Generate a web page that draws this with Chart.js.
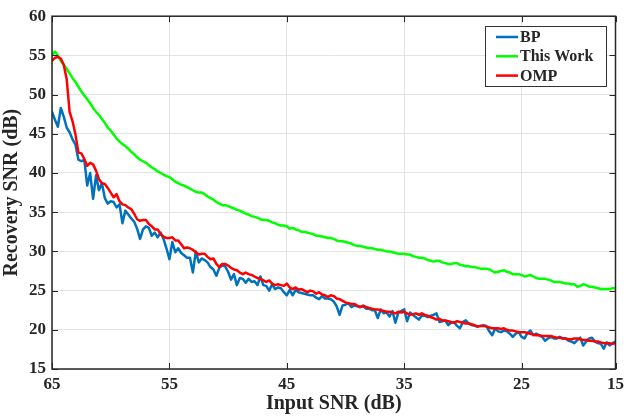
<!DOCTYPE html>
<html><head><meta charset="utf-8">
<script src="https://cdn.jsdelivr.net/npm/chart.js@4/dist/chart.umd.min.js"></script>
<style>html,body{margin:0;padding:0;background:#fff}#wrap{width:629px;height:416px}</style>
</head><body><div id="wrap"><canvas id="c" width="629" height="416"></canvas></div>
<script>
// Input SNR axis positions (dB), 65 -> 17 in 0.25 dB steps
const inputSNR = [65,
64.75,64.5,64.25,64, 63.75,63.5,63.25,63, 62.75,62.5,62.25,62, 61.75,61.5,61.25,61, 60.75,60.5,60.25,60,
59.75,59.5,59.25,59, 58.75,58.5,58.25,58, 57.75,57.5,57.25,57, 56.75,56.5,56.25,56, 55.75,55.5,55.25,55,
54.75,54.5,54.25,54, 53.75,53.5,53.25,53, 52.75,52.5,52.25,52, 51.75,51.5,51.25,51, 50.75,50.5,50.25,50,
49.75,49.5,49.25,49, 48.75,48.5,48.25,48, 47.75,47.5,47.25,47, 46.75,46.5,46.25,46, 45.75,45.5,45.25,45,
44.75,44.5,44.25,44, 43.75,43.5,43.25,43, 42.75,42.5,42.25,42, 41.75,41.5,41.25,41, 40.75,40.5,40.25,40,
39.75,39.5,39.25,39, 38.75,38.5,38.25,38, 37.75,37.5,37.25,37, 36.75,36.5,36.25,36, 35.75,35.5,35.25,35,
34.75,34.5,34.25,34, 33.75,33.5,33.25,33, 32.75,32.5,32.25,32, 31.75,31.5,31.25,31, 30.75,30.5,30.25,30,
29.75,29.5,29.25,29, 28.75,28.5,28.25,28, 27.75,27.5,27.25,27, 26.75,26.5,26.25,26, 25.75,25.5,25.25,25,
24.75,24.5,24.25,24, 23.75,23.5,23.25,23, 22.75,22.5,22.25,22, 21.75,21.5,21.25,21, 20.75,20.5,20.25,20,
19.75,19.5,19.25,19, 18.75,18.5,18.25,18, 17.75,17.5,17.25,17];

const bpSNR = [47.8,
46.8,45.9,48.3,47.2, 45.8,45.2,44.3,43.6, 41.7,41.5,41.7,38.4, 40.0,36.7,39.7,37.8, 38.7,36.8,36.1,36.4,
36.3,35.6,36.0,33.6, 35.2,34.7,34.2,33.8, 32.9,31.6,32.8,33.2, 33.0,32.0,32.4,31.8, 32.4,31.6,30.4,29.0,
31.2,29.9,30.4,29.8, 29.5,29.2,29.2,27.3, 30.0,28.6,29.1,28.9, 28.6,28.0,27.7,26.9, 27.9,28.2,28.1,27.4,
26.4,27.1,25.7,26.6, 26.5,26.0,26.5,26.1, 26.2,25.7,26.8,25.7, 25.6,25.0,25.8,25.2, 25.4,25.3,24.8,24.4,
25.1,24.4,25.1,24.8, 24.7,24.6,24.5,24.4, 24.4,24.1,23.9,24.3, 24.0,24.0,23.9,23.6, 23.0,21.9,23.1,23.2,
23.4,22.9,23.1,23.0, 22.9,23.0,22.7,22.7, 22.5,22.5,21.5,22.6, 22.1,22.2,21.7,22.4, 20.9,22.2,22.4,22.6,
21.1,22.2,21.9,21.6, 21.3,21.8,21.8,21.6, 21.8,21.9,22.1,21.0, 21.1,21.2,20.6,20.9, 21.0,20.5,20.2,21.0,
21.2,20.8,20.6,20.5, 20.4,20.5,20.6,20.5, 19.8,19.3,20.2,19.8, 19.7,19.9,19.8,19.5, 19.1,19.5,19.7,19.1,
18.9,19.6,19.9,19.3, 19.5,19.3,19.1,18.6, 18.9,19.1,18.9,18.9, 19.1,18.9,18.9,18.6, 18.5,18.3,18.7,19.0,
18.0,18.5,18.9,19.0, 18.5,18.3,18.2,17.6, 18.4,18.0,18.3,18.5];

const thisWorkSNR = [55.0,
55.5,55.0,54.3,53.8, 53.3,52.7,52.1,51.6, 51.0,50.4,49.9,49.4, 48.9,48.3,47.8,47.4, 46.9,46.4,45.8,45.4,
44.9,44.4,44.0,43.7, 43.4,43.1,42.7,42.4, 42.0,41.7,41.5,41.3, 41.0,40.7,40.5,40.2, 40.0,39.8,39.6,39.5,
39.2,38.9,38.7,38.5, 38.4,38.2,38.0,37.8, 37.6,37.5,37.5,37.3, 37.0,36.8,36.6,36.3, 36.1,35.9,35.9,35.8,
35.6,35.5,35.3,35.2, 35.0,34.8,34.7,34.5, 34.4,34.3,34.1,34.0, 34.0,33.9,33.7,33.6, 33.4,33.3,33.3,33.2,
32.9,33.0,32.8,32.7, 32.5,32.5,32.4,32.3, 32.2,32.0,32.0,31.9, 31.8,31.7,31.7,31.6, 31.4,31.3,31.3,31.2,
31.1,31.0,30.8,30.7, 30.7,30.6,30.5,30.4, 30.4,30.3,30.2,30.2, 30.1,30.0,30.0,29.9, 29.8,29.7,29.7,29.7,
29.6,29.6,29.4,29.3, 29.2,29.2,29.1,28.9, 28.8,28.7,28.8,28.8, 28.6,28.5,28.4,28.4, 28.5,28.5,28.3,28.2,
28.1,28.1,28.0,28.0, 27.9,27.8,27.8,27.8, 27.7,27.5,27.3,27.4, 27.5,27.6,27.4,27.3, 27.1,27.1,27.1,27.0,
26.8,26.9,27.0,26.8, 26.6,26.5,26.5,26.5, 26.4,26.3,26.1,26.1, 26.1,26.0,25.9,25.9, 25.8,25.8,25.5,25.6,
25.8,25.7,25.5,25.5, 25.4,25.3,25.2,25.2, 25.2,25.2,25.3,25.3];

const ompSNR = [54.3,
54.7,54.8,54.6,53.8, 52.0,47.8,46.6,44.9, 42.6,42.5,41.8,40.9, 41.3,41.1,40.3,39.2, 38.7,38.6,38.1,37.5,
36.9,37.3,36.4,36.0, 35.9,35.6,35.4,34.8, 34.1,33.9,34.0,34.0, 33.5,33.2,32.8,32.8, 32.2,31.9,31.7,31.7,
31.8,31.4,31.4,30.9, 30.4,30.5,30.4,30.2, 29.9,29.6,29.7,29.7, 29.3,29.0,29.1,28.4, 28.0,28.4,28.4,28.2,
27.9,27.7,27.6,27.3, 27.1,27.3,27.1,27.0, 26.8,26.6,26.5,26.3, 26.1,26.3,25.9,25.7, 25.8,25.7,25.6,25.9,
25.4,25.2,25.4,25.1, 25.2,25.0,24.8,25.0, 24.9,24.6,24.8,24.5, 24.4,24.2,24.4,24.3, 24.0,23.9,23.7,23.5,
23.4,23.3,23.3,23.1, 22.9,23.1,22.9,22.8, 22.7,22.6,22.6,22.5, 22.4,22.3,22.3,22.2, 22.1,22.3,22.2,22.3,
22.1,21.9,22.0,22.1, 21.9,22.1,21.9,21.8, 21.6,21.5,21.3,21.4, 21.2,21.2,21.1,21.0, 20.9,21.1,21.0,20.9,
20.8,20.8,20.7,20.6, 20.4,20.5,20.5,20.4, 20.3,20.2,20.2,20.2, 20.1,20.2,20.0,19.9, 19.9,19.8,19.7,19.7,
19.7,19.6,19.5,19.4, 19.3,19.3,19.2,19.2, 19.2,19.2,19.1,19.0, 19.0,18.9,18.9,18.8, 18.8,18.9,18.9,18.8,
18.7,18.7,18.6,18.6, 18.5,18.5,18.4,18.3, 18.3,18.3,18.2,18.3];

const seriesNames = ['BP','This Work','OMP'];
const xTickValues = [65,55,45,35,25,17];
const xTickLabels = ['65','55','45','35','25','15'];
const yTickValues = [15,20,25,30,35,40,45,50,55,60];

const INK = '#262626';
const FONT = "'Liberation Serif', 'Times New Roman', serif";

function pts(arr){ return arr.map((v,i)=>({x:inputSNR[i], y:v})); }

const framePlugin = {
  id:'frame',
  afterDatasetsDraw(chart){
    const {ctx, chartArea:a, scales:{x,y}} = chart;
    ctx.save();
    ctx.strokeStyle = INK; ctx.lineWidth = 1.5;
    ctx.strokeRect(a.left, a.top, a.right-a.left, a.bottom-a.top);
    ctx.lineWidth = 1;
    ctx.beginPath();
    xTickValues.forEach(v=>{
      const px = Math.round(x.getPixelForValue(v))+0.5;
      ctx.moveTo(px,a.bottom); ctx.lineTo(px,a.bottom-6);
      ctx.moveTo(px,a.top); ctx.lineTo(px,a.top+6);
    });
    yTickValues.forEach(v=>{
      const py = Math.round(y.getPixelForValue(v))+0.5;
      ctx.moveTo(a.left,py); ctx.lineTo(a.left+6,py);
      ctx.moveTo(a.right,py); ctx.lineTo(a.right-6,py);
    });
    ctx.stroke();
    ctx.restore();
  },
  afterDraw(chart){
    const ctx = chart.ctx;
    const bx=485, by=26, bw=121, bh=60;
    ctx.save();
    ctx.fillStyle='#fff'; ctx.fillRect(bx,by,bw,bh);
    ctx.strokeStyle='#333'; ctx.lineWidth=1;
    ctx.strokeRect(bx+0.5,by+0.5,bw,bh);
    ctx.font = "bold 16px " + FONT;
    ctx.textBaseline='middle';
    chart.data.datasets.forEach((ds,i)=>{
      const yy = by + 11 + i*19.3;
      ctx.strokeStyle = ds.borderColor; ctx.lineWidth = 2.5;
      ctx.beginPath(); ctx.moveTo(bx+11,yy); ctx.lineTo(bx+33,yy); ctx.stroke();
      ctx.fillStyle = INK;
      ctx.fillText(ds.label, bx+35, yy+1);
    });
    ctx.restore();
  }
};

new Chart(document.getElementById('c'), {
  type:'line',
  data:{
    datasets:[
      {label:seriesNames[0], data:pts(bpSNR), borderColor:'#0072BD', order:2},
      {label:seriesNames[1], data:pts(thisWorkSNR), borderColor:'#00FF00', order:1},
      {label:seriesNames[2], data:pts(ompSNR), borderColor:'#FF0000', order:0}
    ]
  },
  options:{
    responsive:false, animation:false, devicePixelRatio:1,
    layout:{padding:{top:14,right:11,left:0,bottom:0}},
    elements:{line:{borderWidth:2.5, tension:0, borderJoinStyle:'round', borderCapStyle:'round'}, point:{radius:0}},
    plugins:{legend:{display:false}, tooltip:{enabled:false}},
    scales:{
      x:{type:'linear', min:17, max:65, reverse:true,
        afterBuildTicks:s=>{ s.ticks = xTickValues.map(v=>({value:v})); },
        afterFit:s=>{ s.height = 47; },
        ticks:{autoSkip:false, maxRotation:0, padding:5, color:INK,
          font:{family:FONT, size:17, weight:'bold'},
          callback:v=>{ const i = xTickValues.indexOf(v); return i>=0 ? xTickLabels[i] : ''; }},
        grid:{color:'#e3e3e3', drawTicks:false, lineWidth:1},
        border:{display:false},
        title:{display:true, text:'Input SNR (dB)', color:INK, padding:{top:1,bottom:0},
          font:{family:FONT, size:20, weight:'bold'}}
      },
      y:{type:'linear', min:15, max:60,
        afterBuildTicks:s=>{ s.ticks = yTickValues.map(v=>({value:v})); },
        afterFit:s=>{ s.width = 52; },
        ticks:{padding:6, color:INK, font:{family:FONT, size:17, weight:'bold'}},
        grid:{color:'#e3e3e3', drawTicks:false, lineWidth:1},
        border:{display:false},
        title:{display:true, text:'Recovery SNR (dB)', color:INK, padding:{top:0,bottom:2},
          font:{family:FONT, size:20, weight:'bold'}}
      }
    }
  },
  plugins:[framePlugin]
});
</script></body></html>
